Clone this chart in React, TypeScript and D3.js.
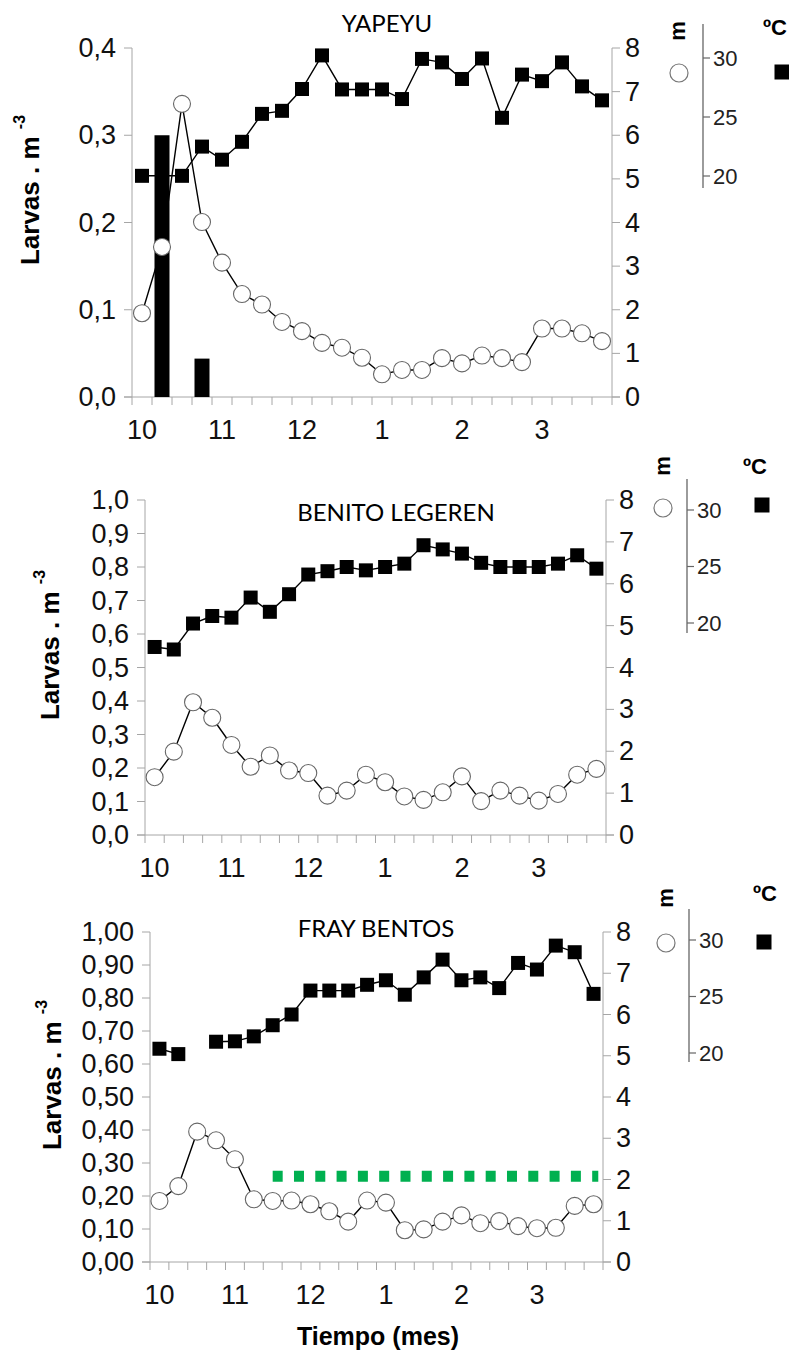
import React from "react";
import * as d3 from "d3";

// ---------- DATA ----------
const months = ["10", "11", "12", "1", "2", "3"];
const monthIdx = [0, 4, 8, 12, 16, 20];
const rightTicks = [0, 1, 2, 3, 4, 5, 6, 7, 8];
const tempTicks = [20, 25, 30];

// YAPEYU (squares & circles in right-axis units 0-8, bars in larvas.m-3)
const yapeyuSquares = [5.07, 5.07, 5.07, 5.74, 5.44, 5.85, 6.49, 6.56, 7.06, 7.83, 7.05, 7.05, 7.05, 6.83, 7.75, 7.67, 7.29, 7.76, 6.4, 7.39, 7.24, 7.67, 7.12, 6.8];
const yapeyuCircles = [1.92, 3.44, 6.72, 4.01, 3.08, 2.36, 2.12, 1.72, 1.51, 1.24, 1.13, 0.9, 0.52, 0.62, 0.62, 0.89, 0.77, 0.95, 0.89, 0.8, 1.57, 1.57, 1.46, 1.28];
const yapeyuBars = [0, 0.3, 0, 0.044, 0, 0, 0, 0, 0, 0, 0, 0, 0, 0, 0, 0, 0, 0, 0, 0, 0, 0, 0, 0];
const yapeyuLeftTicks = [0, 0.1, 0.2, 0.3, 0.4];

// BENITO LEGEREN
const benitoSquares = [4.49, 4.43, 5.05, 5.23, 5.19, 5.67, 5.33, 5.75, 6.22, 6.3, 6.4, 6.32, 6.4, 6.48, 6.92, 6.82, 6.72, 6.5, 6.4, 6.4, 6.4, 6.48, 6.68, 6.36];
const benitoCircles = [1.38, 1.99, 3.17, 2.8, 2.15, 1.63, 1.9, 1.54, 1.48, 0.94, 1.06, 1.44, 1.26, 0.92, 0.84, 1.02, 1.4, 0.81, 1.06, 0.94, 0.82, 0.98, 1.44, 1.58];
const benitoLeftTicks = [0, 0.1, 0.2, 0.3, 0.4, 0.5, 0.6, 0.7, 0.8, 0.9, 1.0];

// FRAY BENTOS
const fraySquares: (number | null)[] = [5.17, 5.04, null, 5.34, 5.35, 5.47, 5.74, 6.0, 6.58, 6.58, 6.58, 6.72, 6.83, 6.48, 6.9, 7.33, 6.83, 6.9, 6.64, 7.25, 7.09, 7.67, 7.51, 6.5];
const frayCircles = [1.48, 1.84, 3.16, 2.95, 2.49, 1.52, 1.48, 1.49, 1.4, 1.23, 0.98, 1.49, 1.44, 0.77, 0.79, 0.98, 1.13, 0.94, 0.99, 0.87, 0.82, 0.83, 1.36, 1.4];
const frayLeftTicks = [0, 0.1, 0.2, 0.3, 0.4, 0.5, 0.6, 0.7, 0.8, 0.9, 1.0];
const frayThreshold = 0.26;
const frayThresholdFrom = 6;
const frayThresholdTo = 23;

const panels = [
  {
    title: "YAPEYU", titleX: 387, titleY: 22,
    left: 132, right: 612, top: 48, bottom: 397,
    leftMax: 0.4, leftTicks: yapeyuLeftTicks, dec: 1,
    squares: yapeyuSquares as (number | null)[], circles: yapeyuCircles, bars: yapeyuBars,
    temp: { x: 703, y0: 24, y1: 188, y20: 176, y30: 58 },
    leg: { mX: 677, mY: 31, cX: 679, cY: 73, degX: 775, degY: 27, sqX: 782, sqY: 72 },
    ylX: 30, ylY: 190, threshold: null as null | number,
  },
  {
    title: "BENITO LEGEREN", titleX: 396, titleY: 511,
    left: 145, right: 606, top: 500, bottom: 835,
    leftMax: 1.0, leftTicks: benitoLeftTicks, dec: 1,
    squares: benitoSquares as (number | null)[], circles: benitoCircles, bars: null as null | number[],
    temp: { x: 687, y0: 479, y1: 633, y20: 623, y30: 510 },
    leg: { mX: 662, mY: 466, cX: 663, cY: 508, degX: 755, degY: 466, sqX: 762, sqY: 505 },
    ylX: 50, ylY: 645, threshold: null as null | number,
  },
  {
    title: "FRAY BENTOS", titleX: 376, titleY: 927,
    left: 150, right: 603, top: 932, bottom: 1262,
    leftMax: 1.0, leftTicks: frayLeftTicks, dec: 2,
    squares: fraySquares, circles: frayCircles, bars: null as null | number[],
    temp: { x: 689, y0: 909, y1: 1062, y20: 1053, y30: 940 },
    leg: { mX: 665, mY: 898, cX: 666, cY: 943, degX: 765, degY: 893, sqX: 764, sqY: 942 },
    ylX: 52, ylY: 1075, threshold: frayThreshold as null | number,
  },
];

const AX = "#a6a6a6";
const NUM_FONT = "'Liberation Sans', Arial, sans-serif";
const NUM_SIZE = 27;

function Panel({ p }: { p: (typeof panels)[number] }) {
  const n = 24;
  const xb = d3.scaleBand<number>().domain(d3.range(n)).range([p.left, p.right]).paddingInner(0).paddingOuter(0);
  const bw = xb.bandwidth();
  const cx = (i: number) => (xb(i) as number) + bw / 2;
  const yL = d3.scaleLinear().domain([0, p.leftMax]).range([p.bottom, p.top]);
  const yR = d3.scaleLinear().domain([0, 8]).range([p.bottom, p.top]);
  const yT = d3.scaleLinear().domain([20, 30]).range([p.temp.y20, p.temp.y30]);

  const lineGen = d3
    .line<number | null>()
    .defined((d) => d !== null)
    .x((_, i) => cx(i))
    .y((d) => yR(d as number));

  const fmt = (v: number) => v.toFixed(p.dec).replace(".", ",");
  const sq = 14;
  const r = 8.5;

  return (
    <g>
      {/* title */}
      <text x={p.titleX} y={p.titleY} textAnchor="middle" dominantBaseline="central" fontFamily="Lato, 'Open Sans', sans-serif" fontSize={24} fill="#000">
        {p.title}
      </text>

      {/* left axis */}
      <line x1={p.left} x2={p.left} y1={p.top} y2={p.bottom} stroke={AX} strokeWidth={1} />
      {p.leftTicks.map((t) => (
        <g key={"l" + t}>
          <line x1={p.left - 8} x2={p.left} y1={yL(t)} y2={yL(t)} stroke={AX} />
          <text x={p.left - 16} y={yL(t)} textAnchor="end" dominantBaseline="central" fontFamily={NUM_FONT} fontSize={NUM_SIZE} fill="#111">
            {fmt(t)}
          </text>
        </g>
      ))}

      {/* right axis */}
      <line x1={p.right} x2={p.right} y1={p.top} y2={p.bottom} stroke={AX} strokeWidth={1} />
      {rightTicks.map((t) => (
        <g key={"r" + t}>
          <line x1={p.right} x2={p.right + 8} y1={yR(t)} y2={yR(t)} stroke={AX} />
          <text x={p.right + 13} y={yR(t)} textAnchor="start" dominantBaseline="central" fontFamily={NUM_FONT} fontSize={NUM_SIZE} fill="#111">
            {t}
          </text>
        </g>
      ))}

      {/* bottom axis */}
      <line x1={p.left - 8} x2={p.right + 8} y1={p.bottom} y2={p.bottom} stroke={AX} />
      {d3.range(n + 1).map((i) => (
        <line key={"b" + i} x1={p.left + i * bw} x2={p.left + i * bw} y1={p.bottom} y2={p.bottom + 8} stroke={AX} />
      ))}
      {months.map((m, k) => (
        <text key={"m" + m} x={cx(monthIdx[k])} y={p.bottom + 33} textAnchor="middle" dominantBaseline="central" fontFamily={NUM_FONT} fontSize={NUM_SIZE} fill="#111">
          {m}
        </text>
      ))}

      {/* y label */}
      <text transform={`translate(${p.ylX},${p.ylY}) rotate(-90)`} textAnchor="middle" dominantBaseline="central" fontFamily={NUM_FONT} fontWeight="bold" fontSize={26} fill="#000">
        <tspan>Larvas . m </tspan>
        <tspan dy={-11} fontSize={16}>-3</tspan>
      </text>

      {/* temperature axis */}
      <line x1={p.temp.x} x2={p.temp.x} y1={p.temp.y0} y2={p.temp.y1} stroke="#666" strokeWidth={1.3} />
      {tempTicks.map((t) => (
        <g key={"t" + t}>
          <line x1={p.temp.x} x2={p.temp.x + 7} y1={yT(t)} y2={yT(t)} stroke="#666" strokeWidth={1.2} />
          <text x={p.temp.x + 10} y={yT(t)} textAnchor="start" dominantBaseline="central" fontFamily={NUM_FONT} fontSize={22} fill="#222">
            {t}
          </text>
        </g>
      ))}

      {/* legend */}
      <text transform={`translate(${p.leg.mX},${p.leg.mY}) rotate(-90)`} textAnchor="middle" dominantBaseline="central" fontFamily={NUM_FONT} fontWeight="bold" fontSize={22} fill="#000">
        m
      </text>
      <circle cx={p.leg.cX} cy={p.leg.cY} r={9} fill="#fff" stroke="#777" strokeWidth={1.2} />
      <text x={p.leg.degX} y={p.leg.degY} textAnchor="middle" dominantBaseline="central" fontFamily={NUM_FONT} fontWeight="bold" fontSize={22} fill="#000">
        ºC
      </text>
      <rect x={p.leg.sqX - 7.5} y={p.leg.sqY - 7.5} width={15} height={15} fill="#000" />

      {/* bars */}
      {p.bars &&
        p.bars.map((v, i) =>
          v > 0 ? <rect key={"bar" + i} x={cx(i) - 7.5} y={yL(v)} width={15} height={p.bottom - yL(v)} fill="#000" /> : null
        )}

      {/* threshold */}
      {p.threshold !== null && (
        <line
          x1={cx(frayThresholdFrom)}
          x2={cx(frayThresholdTo) + bw / 4}
          y1={yL(p.threshold)}
          y2={yL(p.threshold)}
          stroke="#00b050"
          strokeWidth={11}
          strokeDasharray="10 11.3"
        />
      )}

      {/* square line */}
      <path d={lineGen(p.squares) || ""} fill="none" stroke="#000" strokeWidth={1.4} />
      {p.squares.map((v, i) =>
        v === null ? null : <rect key={"s" + i} x={cx(i) - sq / 2} y={yR(v) - sq / 2} width={sq} height={sq} fill="#000" />
      )}

      {/* circle line */}
      <path d={lineGen(p.circles) || ""} fill="none" stroke="#000" strokeWidth={1.4} />
      {p.circles.map((v, i) => (
        <circle key={"c" + i} cx={cx(i)} cy={yR(v)} r={r} fill="#fff" stroke="#666" strokeWidth={1.1} />
      ))}
    </g>
  );
}

export default function App() {
  return (
    <svg width={789} height={1356} viewBox="0 0 789 1356" style={{ position: "absolute", left: 0, top: 0, background: "#fff" }}>
      <rect width={789} height={1356} fill="#fff" />
      {panels.map((p) => (
        <Panel key={p.title} p={p} />
      ))}
      <text x={378} y={1336} textAnchor="middle" dominantBaseline="central" fontFamily={NUM_FONT} fontWeight="bold" fontSize={25} fill="#000">
        Tiempo (mes)
      </text>
    </svg>
  );
}
